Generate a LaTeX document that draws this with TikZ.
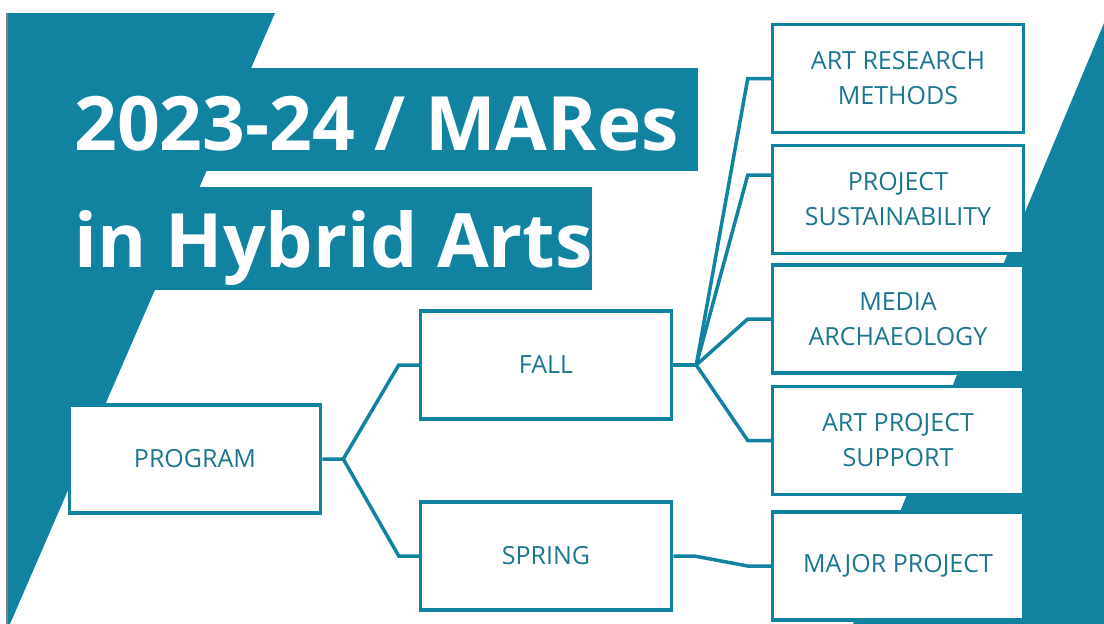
\documentclass[tikz,border=0pt]{standalone}
\usepackage{fontspec}
\setmainfont{Open Sans}
\usepackage{tikz}
\usetikzlibrary{calc}
\definecolor{hybridteal}{RGB}{17,131,160}
\definecolor{hybridtext}{RGB}{28,118,145}

\begin{document}
\begin{tikzpicture}[x=1pt,y=-1pt]

\tikzstyle{box}=[draw=hybridteal, fill=white, line width=3.5pt,
  minimum width=251pt, minimum height=108pt, inner sep=0pt,
  text=hybridtext, align=center, font=\fontsize{25}{35}\selectfont]
\tikzstyle{link}=[draw=hybridteal, line width=3.5pt]
\tikzstyle{headline}=[text=white, anchor=base west, inner sep=0pt,
  font=\fontsize{75}{90}\selectfont\bfseries]

\useasboundingbox (0,0) rectangle (1104,624);

%%% BACKGROUND SHAPES %%%
\fill[hybridteal] (8,13) -- (275,13) -- (10,624) -- (8,624) -- cycle;
\fill[hybridteal] (1104,23) -- (1104,624) -- (853,624) -- cycle;
\fill[hybridteal] (150,68) rectangle (698,171);
\fill[hybridteal] (100,187) rectangle (592,290);
\draw[gray, line width=1.5pt] (7,13) -- (7,624);

%%% TITLE %%%
\node[headline] (titleone) at (74,150) {2023-24 / MARes};
\node[headline] (titletwo) at (74,267) {in Hybrid Arts};

%%% BOXES %%%
\node[box] (program) at (195,459) {PROGRAM};
\node[box] (fall) at (546,365) {FALL};
\node[box] (spring) at (546,556) {SPRING};

\foreach \name/\y/\txt in {methods/78.5/{ART RESEARCH\\METHODS},
  sustain/199.5/{PROJECT\\SUSTAINABILITY},
  media/319/{MEDIA\\ARCHAEOLOGY},
  support/440.5/{ART PROJECT\\SUPPORT},
  major/566/{MAJOR PROJECT}}{
\node[box] (\name) at (898,\y) {\txt};
}

%%% CONNECTORS %%%
\coordinate (progfork) at ($(program.east)+(21,0)$);
\draw[link] (program.east) -- (progfork) -- ($(fall.west)+(-20,0)$) -- (fall.west);
\draw[link] (progfork) -- ($(spring.west)+(-20,0)$) -- (spring.west);

\coordinate (fallfork) at ($(fall.east)+(23,0)$);
\draw[link] (fall.east) -- (fallfork);
\foreach \name/\dy in {methods/0, sustain/-24.5, media/0, support/0}{
\draw[link] (fallfork) -- ($(\name.west)+(-23,\dy)$) -- ++(23,0);
}

\draw[link] (spring.east) -- ++(21,0) -- ($(major.west)+(-23,0)$) -- (major.west);

\end{tikzpicture}
\end{document}
